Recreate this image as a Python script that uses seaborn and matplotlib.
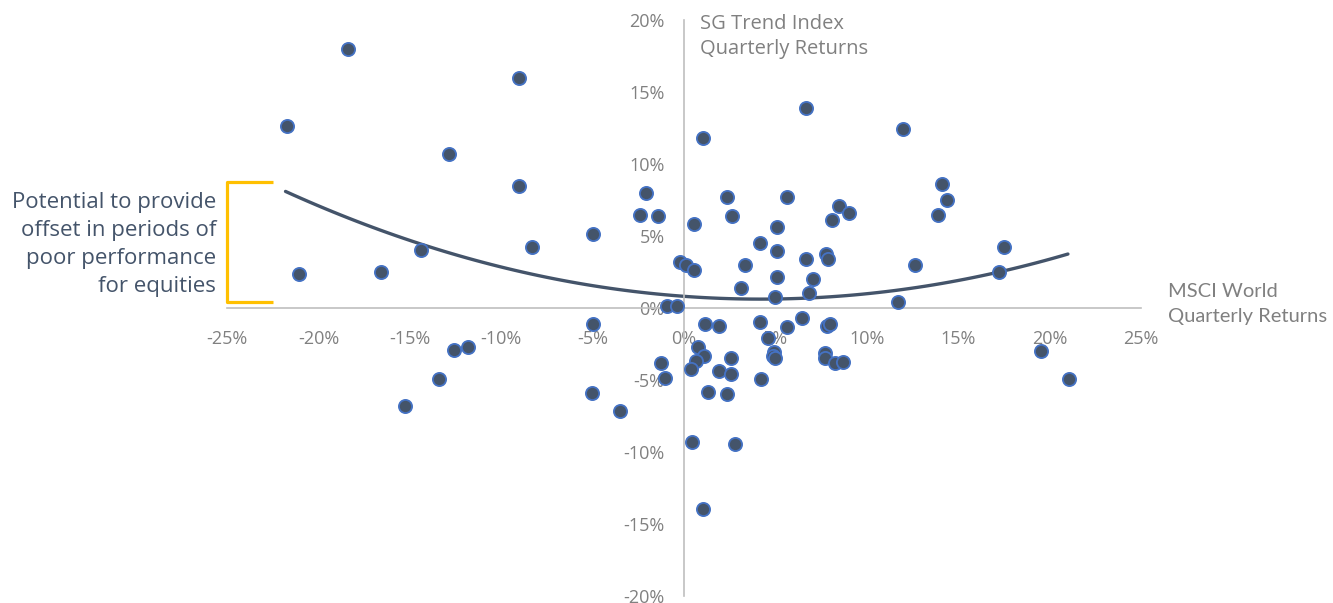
import numpy as np
import pandas as pd
import seaborn as sns
import matplotlib.pyplot as plt

# quarterly returns in %
msci = [-18.37, -21.7, -9.05, -12.88, -9.05, -21.05, -16.56, -14.38, -8.33, -4.97,
        -2.08, -2.39, -1.44, 1.06, 0.57, -0.22, 0.09, 0.57, -0.95, -0.37,
        2.36, 2.65, 5.63, 5.06, 4.18, 5.06, 3.33, 3.14, 5.06, 4.95,
        6.67, 7.07, 6.85, 7.79, 7.89, 8.1, 8.46, 9.05, 6.69, 11.99,
        14.09, 14.38, 13.89, 12.66, 11.72, 17.53, 17.25, 19.52, 21.04, 1.15,
        1.90, 4.18, 5.63, 6.47, 7.82, 8.0, 4.57, 4.93, 4.86, 4.97,
        0.77, 1.08, 0.66, 0.37, 2.56, 1.90, 2.56, 4.20, 7.71, 7.71,
        8.28, 8.68, -1.26, -1.06, 1.33, 2.37, 0.46, 2.78, 1.06, -12.57,
        -11.8, -13.42, -15.24, -5.04, -3.51, -4.99]
sg_trend = [18.0, 12.66, 15.95, 10.70, 8.46, 2.35, 2.47, 4.01, 4.22, 5.12,
            8.0, 6.48, 6.37, 11.81, 5.86, 3.23, 3.02, 2.63, 0.14, 0.14,
            7.73, 6.37, 7.73, 5.63, 4.50, 3.99, 3.0, 1.36, 2.12, 0.78,
            3.37, 1.99, 1.06, 3.76, 3.37, 6.11, 7.08, 6.62, 13.89, 12.44,
            8.58, 7.47, 6.48, 3.0, 0.39, 4.24, 2.49, -3.0, -4.96, -1.11,
            -1.22, -0.99, -1.34, -0.71, -1.22, -1.11, -2.10, -3.07, -3.34, -3.48,
            -2.70, -3.34, -3.71, -4.24, -3.48, -4.34, -4.59, -4.94, -3.11, -3.48,
            -3.83, -3.76, -3.83, -4.84, -5.83, -5.95, -9.29, -9.41, -13.93, -2.95,
            -2.72, -4.96, -6.78, -5.88, -7.13, -1.11]

# polynomial trendline, points
trend_x = [-21.8, -18.5, -15.7, -12.1, -9.0, -6.2, -3.0, -0.2, 1.6, 5.3, 8.9, 10.7, 13.3, 17.2, 21.0]
trend_y = [8.08, 6.34, 5.07, 3.45, 2.52, 1.83, 1.25, 0.86, 0.63, 0.63, 0.79, 1.13, 1.64, 2.43, 3.75]

x_ticks = [-25, -20, -15, -10, -5, 0, 5, 10, 15, 20, 25]
y_ticks = [-20, -15, -10, -5, 0, 5, 10, 15, 20]

note = "Potential to provide\noffset in periods of\npoor performance\nfor equities"

df = pd.DataFrame({"msci": msci, "sg": sg_trend})
trend = pd.DataFrame({"x": trend_x, "y": trend_y})

sns.set_style("white")
plt.rcParams['font.family'] = ['Open Sans', 'DejaVu Sans']

navy = "#44546A"
grey = "#808080"

fig = plt.figure(figsize=(13.33, 6.03), dpi=100)
ax = fig.add_axes([0.1703, 0.0116, 0.6857, 0.9552])

sns.regplot(data=trend, x="x", y="y", order=2, ci=None, scatter=False,
            truncate=True, line_kws={"color": navy, "lw": 2.4, "zorder": 2}, ax=ax)
sns.scatterplot(data=df, x="msci", y="sg", s=90, color=navy, edgecolor="#4472C4",
                linewidth=1.3, zorder=3, ax=ax)

ax.set_xlim(-25, 25)
ax.set_ylim(-20, 20)
ax.set_xticks(x_ticks)
ax.set_xticklabels([f"{v}%" for v in x_ticks])
ax.set_yticks(y_ticks)
ax.set_yticklabels([f"{v}%" for v in y_ticks])
ax.set_xlabel("")
ax.set_ylabel("")

for s in ["top", "right"]:
    ax.spines[s].set_visible(False)
ax.spines["left"].set_position(("data", 0))
ax.spines["bottom"].set_position(("data", 0))
for s in ["left", "bottom"]:
    ax.spines[s].set_color("#BFBFBF")
    ax.spines[s].set_linewidth(1.2)
ax.tick_params(axis="x", length=0, pad=16, labelsize=13, labelcolor=grey)
ax.tick_params(axis="y", length=0, pad=14, labelsize=13, labelcolor=grey)

ax.text(0.9, 20.4, "SG Trend Index\nQuarterly Returns", fontsize=14.5, color=grey,
        ha="left", va="top", linespacing=1.3)
ax.text(26.5, 1.75, "MSCI World\nQuarterly Returns", fontsize=14.5, color=grey,
        ha="left", va="top", linespacing=1.55, family=["Lato", "DejaVu Sans"],
        clip_on=False)

# yellow bracket + note
ax.plot([-22.5, -25, -25, -22.5], [8.77, 8.77, 0.44, 0.44], color="#FFC000",
        lw=2.3, clip_on=False, solid_capstyle="butt")
ax.text(-25.6, 4.4, note, fontsize=16, color=navy, ha="right", va="center",
        linespacing=1.45, clip_on=False)

fig.savefig("out.png", dpi=100)
